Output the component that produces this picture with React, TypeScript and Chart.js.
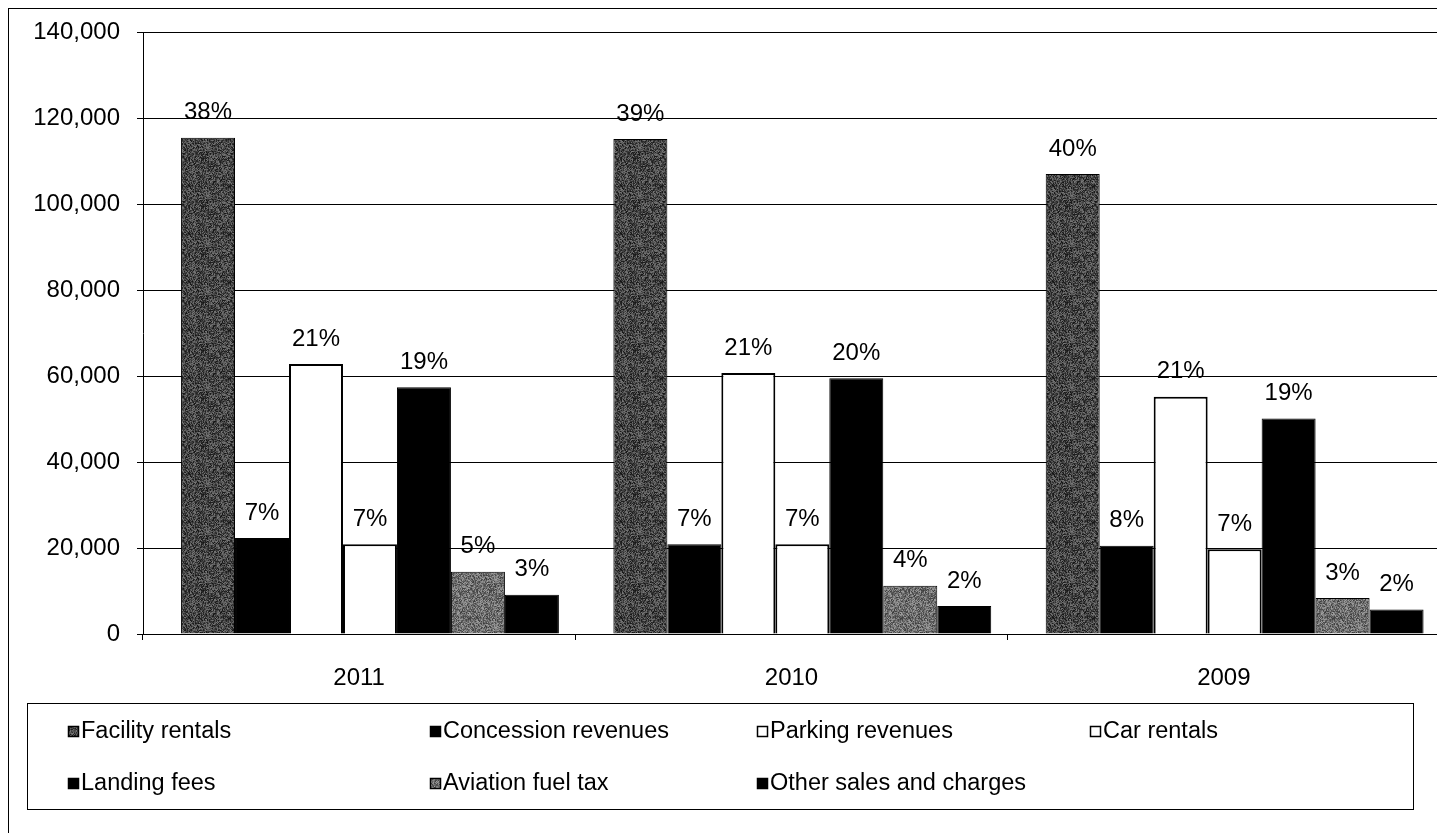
import React, { useEffect, useRef } from "react";
import { Chart, registerables } from "chart.js";

Chart.register(...registerables);

// Revenue by source, per fiscal year
const years = ["2011", "2010", "2009"];

const facilityRentals = [115400, 115100, 107000];
const concessionRevenues = [22300, 20900, 20500];
const parkingRevenues = [62800, 60700, 55200];
const carRentals = [20900, 20900, 19700];
const landingFees = [57400, 59500, 50100];
const aviationFuelTax = [14500, 11200, 8400];
const otherSalesAndCharges = [9100, 6500, 5700];

const seriesNames = [
  "Facility rentals",
  "Concession revenues",
  "Parking revenues",
  "Car rentals",
  "Landing fees",
  "Aviation fuel tax",
  "Other sales and charges",
];

const yTicks = [0, 20000, 40000, 60000, 80000, 100000, 120000, 140000];

const seriesValues = [
  facilityRentals,
  concessionRevenues,
  parkingRevenues,
  carRentals,
  landingFees,
  aviationFuelTax,
  otherSalesAndCharges,
];

const yearTotals = years.map((_, i) =>
  seriesValues.reduce((sum, s) => sum + s[i], 0)
);

const FONT = "'Liberation Sans', Arial, sans-serif";

// Speckled gray fill, as in a halftone print
function speckle(base: number, spread: number): CanvasPattern | string {
  const size = 48;
  const c = document.createElement("canvas");
  c.width = size;
  c.height = size;
  const g = c.getContext("2d");
  const flat = `rgb(${base},${base},${base})`;
  if (!g) return flat;
  const img = g.createImageData(size, size);
  for (let y = 0; y < size; y++) {
    for (let x = 0; x < size; x++) {
      let h = Math.imul(x + 17, 73856093) ^ Math.imul(y + 31, 19349663);
      h = Math.imul(h ^ (h >>> 13), 1274126177);
      h ^= h >>> 16;
      const t = ((h & 255) / 255 - 0.5) * 2 * spread;
      const v = Math.max(0, Math.min(255, Math.round(base + t)));
      const i = (y * size + x) * 4;
      img.data[i] = v;
      img.data[i + 1] = v;
      img.data[i + 2] = v;
      img.data[i + 3] = 255;
    }
  }
  g.putImageData(img, 0, 0);
  return g.createPattern(c, "repeat") ?? flat;
}

export default function App() {
  const canvasRef = useRef<HTMLCanvasElement>(null);

  useEffect(() => {
    const canvas = canvasRef.current;
    if (!canvas) return;

    const darkGray = speckle(70, 50);
    const midGray = speckle(110, 50);
    const fills: (string | CanvasPattern)[] = [
      darkGray,
      "#000000",
      "#ffffff",
      "#ffffff",
      "#000000",
      midGray,
      "#000000",
    ];
    const borderWidths = [1, 1, 2, 2, 1, 1, 1];

    const shareLabels = {
      id: "shareLabels",
      afterDatasetsDraw(chart: Chart) {
        const ctx = chart.ctx;
        ctx.save();
        ctx.font = `24px ${FONT}`;
        ctx.fillStyle = "#000";
        ctx.textAlign = "center";
        ctx.textBaseline = "middle";
        chart.data.datasets.forEach((_, k) => {
          const meta = chart.getDatasetMeta(k);
          meta.data.forEach((bar: any, i: number) => {
            const pct = Math.round((seriesValues[k][i] / yearTotals[i]) * 100);
            ctx.fillText(`${pct}%`, bar.x, bar.y - 25);
          });
        });
        ctx.restore();
      },
    };

    const boxLegend = {
      id: "boxLegend",
      afterDraw(chart: Chart) {
        const ctx = chart.ctx;
        const left = 18;
        const top = 694;
        const right = 1404;
        const bottom = 800;
        const colX = [59, 421, 748, 1081];
        const rowY = [723, 775];
        ctx.save();
        ctx.strokeStyle = "#000";
        ctx.lineWidth = 1;
        ctx.strokeRect(left + 0.5, top + 0.5, right - left, bottom - top);
        ctx.font = `23.5px ${FONT}`;
        ctx.textBaseline = "middle";
        ctx.textAlign = "left";
        seriesNames.forEach((name, k) => {
          const x = colX[k % 4];
          const y = rowY[Math.floor(k / 4)];
          ctx.fillStyle = fills[k] as any;
          ctx.fillRect(x, y - 6, 11, 11);
          ctx.strokeStyle = "#000";
          ctx.lineWidth = 1.5;
          ctx.strokeRect(x + 0.5, y - 5.5, 10, 10);
          ctx.fillStyle = "#000";
          ctx.fillText(name, x + 13, y);
        });
        ctx.restore();
      },
    };

    const chart = new Chart(canvas, {
      type: "bar",
      data: {
        labels: years,
        datasets: seriesValues.map((vals, k) => ({
          label: seriesNames[k],
          data: vals.map((v, i) => ({ x: i, y: v })),
          xAxisID: "xb",
          yAxisID: "y",
          backgroundColor: fills[k] as any,
          borderColor: "#000000",
          borderWidth: borderWidths[k],
          borderSkipped: "start",
          categoryPercentage: 0.874,
          barPercentage: 1,
        })),
      },
      options: {
        animation: false,
        responsive: false,
        events: [],
        layout: { padding: { top: 23, right: 1, bottom: 129, left: 0 } },
        plugins: {
          legend: { display: false },
          tooltip: { enabled: false },
        },
        scales: {
          x: {
            type: "category",
            labels: years,
            offset: true,
            grid: {
              offset: true,
              drawOnChartArea: false,
              tickLength: 6,
              color: "#000",
              lineWidth: 1,
            },
            border: { color: "#000", width: 1 },
            ticks: {
              font: { family: FONT, size: 24 },
              color: "#000",
              padding: 24,
              maxRotation: 0,
            },
            afterFit: (s: any) => {
              s.height = 70;
            },
          },
          // groups sit a little right of the category centres
          xb: {
            type: "linear",
            axis: "x",
            position: "bottom",
            display: false,
            offset: false,
            grace: 0,
            bounds: "data",
            min: -0.525,
            max: 2.475,
            grid: { offset: false },
            afterBuildTicks: (s: any) => {
              s.ticks = years.map((_, i) => ({ value: i }));
            },
          },
          y: {
            type: "linear",
            min: 0,
            max: 140000,
            afterBuildTicks: (s: any) => {
              s.ticks = yTicks.map((v) => ({ value: v }));
            },
            grid: { color: "#000", lineWidth: 1, tickLength: 6 },
            border: { color: "#000", width: 1 },
            ticks: {
              font: { family: FONT, size: 24 },
              color: "#000",
              padding: 17,
              callback: (v: any) => Number(v).toLocaleString("en-US"),
            },
            afterFit: (s: any) => {
              s.width = 134;
              s.paddingTop = 0;
              s.paddingBottom = 0;
            },
          },
        },
      } as any,
      plugins: [shareLabels, boxLegend],
    });

    return () => chart.destroy();
  }, []);

  return (
    <div
      style={{
        width: 1432,
        height: 824,
        border: "1px solid #000",
        background: "#fff",
        position: "relative",
      }}
    >
      <canvas
        ref={canvasRef}
        width={1432}
        height={824}
        style={{ display: "block", width: 1432, height: 824 }}
      />
    </div>
  );
}
